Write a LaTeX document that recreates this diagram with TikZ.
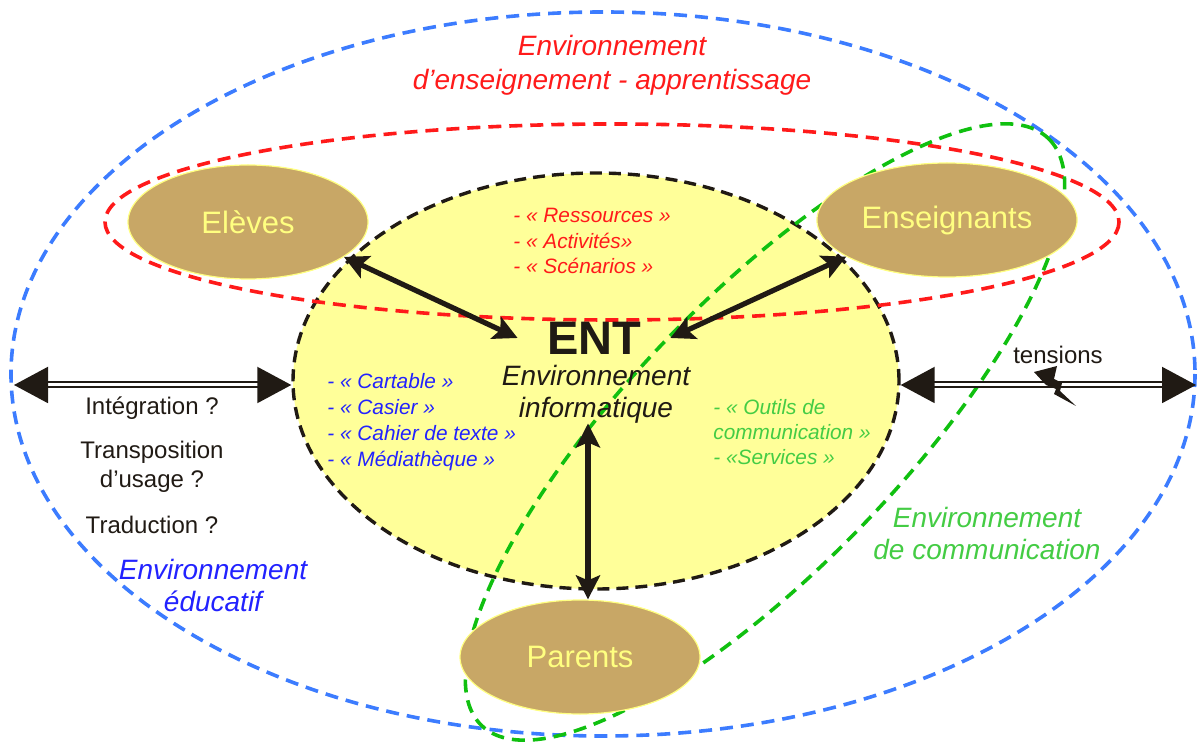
\documentclass[tikz,border=0pt]{standalone}
\usepackage{fontspec}
\setmainfont{Liberation Sans}
\usetikzlibrary{shapes.geometric,arrows.meta}
\definecolor{entyellow}{HTML}{FFFF99}
\definecolor{actorfill}{HTML}{C8A766}
\definecolor{actortext}{HTML}{FFFF80}
\definecolor{envblue}{HTML}{3C7CFF}
\definecolor{envred}{HTML}{FF1A1A}
\definecolor{envgreen}{HTML}{10C010}
\definecolor{txtblue}{HTML}{2222FF}
\definecolor{txtgreen}{HTML}{44CC44}
\definecolor{ink}{HTML}{201A14}
\tikzstyle{actor}=[ellipse, fill=actorfill, draw=actortext, line width=0.6pt, minimum width=120pt, minimum height=57pt, text=actortext, font=\fontsize{15.5}{18}\selectfont]
\tikzstyle{envline}=[line width=1.8pt, dash pattern=on 6.5pt off 4pt]
\tikzstyle{link}=[ink, line width=2.6pt, {Stealth[length=12pt,width=12pt,inset=2.5pt]}-{Stealth[length=12pt,width=12pt,inset=2.5pt]}]
\tikzstyle{bridge}=[ink, line width=1pt, double=white, double distance=1.5pt, {Triangle[length=17pt,width=18pt]}-{Triangle[length=17pt,width=18pt]}]
\tikzstyle{envtitle}=[font=\fontsize{14}{16}\selectfont\itshape, align=center, inner sep=0pt]
\tikzstyle{items}=[font=\fontsize{10.4}{13}\selectfont\itshape, align=left, anchor=west, inner sep=0pt]
\tikzstyle{question}=[ink, font=\fontsize{12}{14.5}\selectfont, align=center, inner sep=0pt]

\begin{document}
\begin{tikzpicture}[x=0.5pt, y=-0.5pt]
                    \useasboundingbox (0,0) rectangle (1198,742);
                    \node[ellipse, fill=entyellow, draw=ink, line width=1.7pt, dash pattern=on 6pt off 3.5pt, minimum width=303pt, minimum height=208pt] (ent) at (596,381) {};
                    \draw[envline, envblue] (603,374) ellipse [x radius=592, y radius=362];
                    \draw[envline, envred] (612,222) ellipse [x radius=507, y radius=98];
                    \draw[envline, envgreen, rotate around={46:(765,432)}] (765,432) ellipse [x radius=408, y radius=135];
                    \node[actor] (eleves) at (248,222) {Elèves};
                    \node[actor] (enseignants) at (947,220) {Enseignants};
                    \node[actor] (parents) at (580,657) {Parents};
                    \node[ink, font=\fontsize{23.5}{26}\selectfont\bfseries, minimum width=76pt, inner sep=0pt] (enttitle) at (594,338) {ENT};
                    \node[envtitle, ink, font=\fontsize{14}{16}\selectfont\itshape] (entsub) at (596,394) {Environnement\\informatique};
                    \node[envtitle, envred, font=\fontsize{14}{17}\selectfont\itshape] (envens) at (612,65) {Environnement\\d’enseignement - apprentissage};
                    \node[envtitle, txtblue] (envedu) at (213,585) {Environnement\\éducatif};
                    \node[envtitle, txtgreen] (envcom) at (987,533) {Environnement\\de communication};
                    \node[items, envred, font=\fontsize{10.4}{12.8}\selectfont\itshape] (ressources) at (513,241) {- « Ressources »\\- « Activités»\\- « Scénarios »};
                    \node[items, txtblue] (cartable) at (327,422) {- « Cartable »\\- « Casier »\\- « Cahier de texte »\\- « Médiathèque »};
                    \node[items, txtgreen, font=\fontsize{10.4}{12.5}\selectfont\itshape] (outils) at (713,432) {- « Outils de\\communication »\\- «Services »};
                    \node[question] (integration) at (152,408) {Intégration ?};
                    \node[question] (transposition) at (152,467) {Transposition\\d’usage ?};
                    \node[question] (traduction) at (152,525) {Traduction ?};
                    \node[question] (tensions) at (1058,355) {tensions};
                    \coordinate (lft) at (14,385);
                    \coordinate (rgt) at (1196,385);
                    \draw[bridge] (lft) -- (lft -| ent.west);
                    \draw[bridge] (ent.east |- rgt) -- (rgt);
                    \fill[ink] (1034,372) -- (1057,366) -- (1054,379) -- (1062,383) -- (1060,391) -- (1076,406) -- (1054,394) -- (1056,389) -- (1046,385) -- cycle;
                    \draw[link] (eleves.-20) -- (enttitle.west);
                    \draw[link] (enseignants.200) -- (enttitle.east);
                    \draw[link] ([xshift=-4pt]entsub.south) -- ([xshift=4pt]parents.north);
                \end{tikzpicture}
\end{document}
